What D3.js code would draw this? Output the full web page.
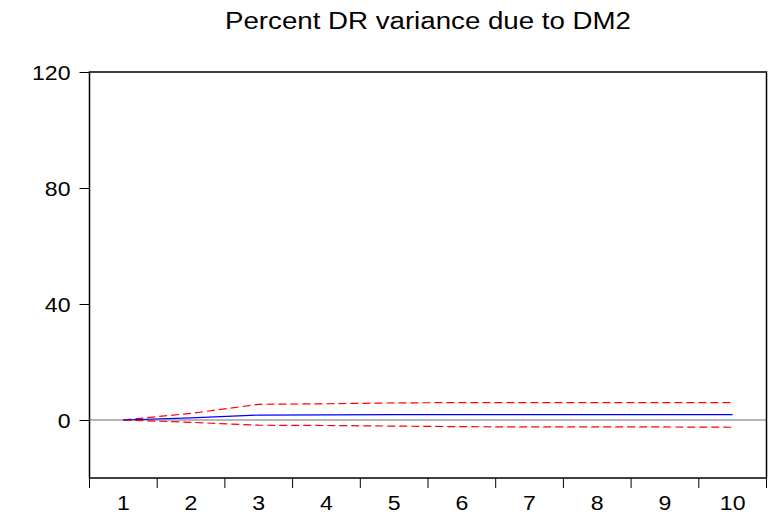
<!DOCTYPE html>
<html>
<head>
<meta charset="utf-8">
<script src="https://cdn.jsdelivr.net/npm/d3@7"></script>
<style>
  html, body { margin: 0; padding: 0; background: #fff; }
  svg { display: block; font-family: "Liberation Sans", Arial, sans-serif; }
</style>
</head>
<body>
<svg id="chart" width="777" height="515"></svg>
<script>
const titleText = "Percent DR variance due to DM2";
const periods = [1, 2, 3, 4, 5, 6, 7, 8, 9, 10];
const response = [0, 0.7, 1.7, 1.8, 1.85, 1.85, 1.85, 1.85, 1.85, 1.85];
const upperBand = [0, 2.3, 5.4, 5.6, 5.9, 6.0, 6.0, 6.0, 6.0, 6.0];
const lowerBand = [0, -0.8, -1.8, -1.9, -2.1, -2.3, -2.4, -2.4, -2.4, -2.5];
const yTicks = [0, 40, 80, 120];
const yDomain = [-20, 120];

const svg = d3.select("#chart");
const L = 89.5, R = 766.5, T = 72, B = 478;

const x = d3.scaleBand().domain(periods).range([L, R]).padding(0);
const y = d3.scaleLinear().domain(yDomain).range([B, T]);
const cx = d => x(d) + x.bandwidth() / 2;

// Title
svg.append("text")
  .attr("x", (L + R) / 2)
  .attr("y", 29)
  .attr("text-anchor", "middle")
  .attr("font-size", 23)
  .attr("textLength", 406)
  .attr("lengthAdjust", "spacingAndGlyphs")
  .attr("fill", "#000")
  .text(titleText);

// zero line
svg.append("line")
  .attr("x1", L).attr("x2", R)
  .attr("y1", y(0)).attr("y2", y(0))
  .attr("stroke", "#707070").attr("stroke-width", 1.2);

// Y axis ticks
const yAxis = d3.axisLeft(y).tickValues(yTicks).tickSize(10).tickPadding(9)
  .tickFormat(d3.format("d"));
const gy = svg.append("g").attr("transform", `translate(${L},0)`).call(yAxis);
gy.select(".domain").remove();
gy.selectAll(".tick line").attr("stroke", "#000").attr("stroke-width", 1);
gy.selectAll(".tick text")
  .attr("font-size", 21)
  .attr("font-family", '"Liberation Sans", Arial, sans-serif')
  .attr("fill", "#000")
  .attr("dy", "0.36em")
  .each(function() {
    const t = d3.select(this);
    const xx = +t.attr("x");
    t.attr("transform", `translate(${xx},0) scale(1.1,1) translate(${-xx},0)`);
  });

// X axis: ticks at band boundaries
const boundaries = periods.map(p => x(p)).concat([R]);
svg.append("g").selectAll("line").data(boundaries).join("line")
  .attr("x1", d => d).attr("x2", d => d)
  .attr("y1", B).attr("y2", B + 10)
  .attr("stroke", "#000").attr("stroke-width", 1);
svg.append("g").selectAll("text").data(periods).join("text")
  .attr("x", d => cx(d))
  .attr("y", 510)
  .attr("text-anchor", "middle")
  .attr("font-size", 21)
  .attr("fill", "#000")
  .attr("transform", d => `translate(${cx(d)},0) scale(1.1,1) translate(${-cx(d)},0)`)
  .text(d => d);

// Lines
const line = d3.line().x((d, i) => cx(periods[i])).y(d => y(d));
svg.append("path").datum(upperBand).attr("d", line)
  .attr("fill", "none").attr("stroke", "#ff0000").attr("stroke-width", 1.2)
  .attr("stroke-dasharray", "8,4");
svg.append("path").datum(lowerBand).attr("d", line)
  .attr("fill", "none").attr("stroke", "#ff0000").attr("stroke-width", 1.2)
  .attr("stroke-dasharray", "8,4");
svg.append("path").datum(response).attr("d", line)
  .attr("fill", "none").attr("stroke", "#0000ff").attr("stroke-width", 1.2);

// Frame
svg.append("rect")
  .attr("x", L).attr("y", T).attr("width", R - L).attr("height", B - T)
  .attr("fill", "none").attr("stroke", "#000").attr("stroke-width", 1.5);
</script>
</body>
</html>
